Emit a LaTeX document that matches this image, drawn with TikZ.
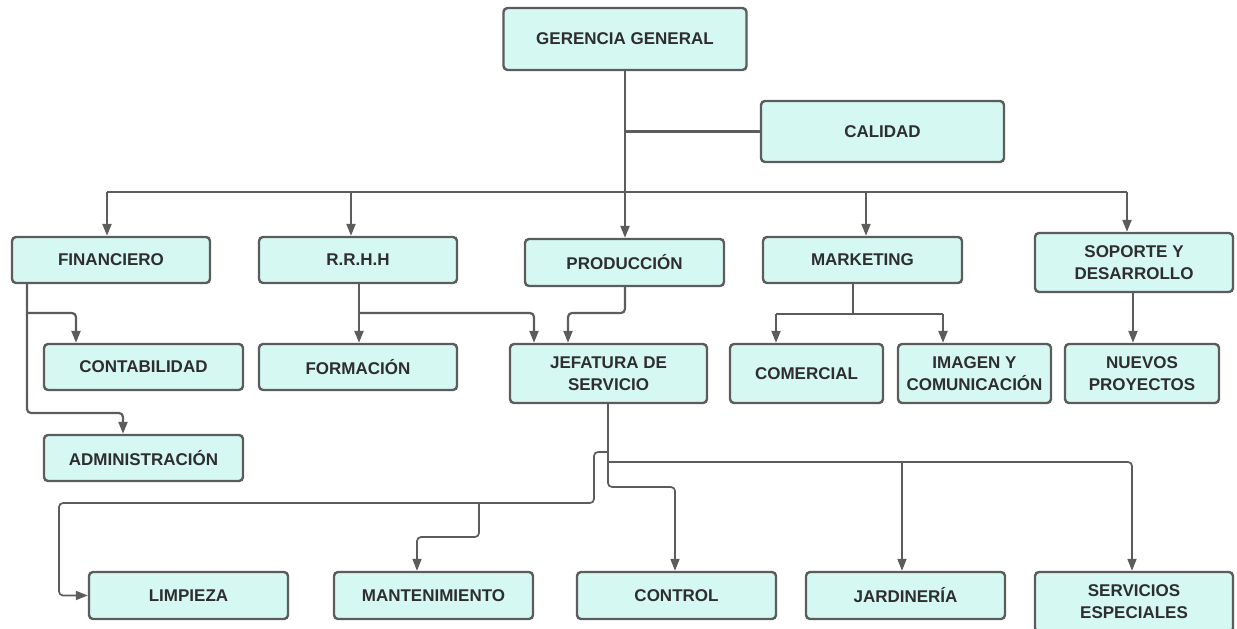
\documentclass[tikz,border=0pt]{standalone}
\usepackage{fontspec}
\setmainfont{Liberation Sans}
\usetikzlibrary{arrows.meta}
\definecolor{boxfill}{HTML}{D6F8F2}
\definecolor{edge}{HTML}{5C5C5C}
\definecolor{ink}{HTML}{2E2E2E}
\tikzset{
  orgbox/.style={draw=edge, line width=2.4pt, fill=boxfill, rounded corners=4pt,
    text=ink, font=\fontsize{17}{22}\selectfont\bfseries, align=center, inner sep=0pt},
  link/.style={draw=edge, line width=2.2pt, rounded corners=4pt},
  thinlink/.style={draw=edge, line width=1.7pt, rounded corners=4pt},
  tip/.style={-{Triangle[length=12pt,width=9pt]}}
}
\begin{document}
\begin{tikzpicture}[x=1pt,y=-1pt]
\useasboundingbox (0,0) rectangle (1237,629);

% boxes
\node[orgbox, minimum width=243pt, minimum height=62pt] (gg)   at (625,39)     {GERENCIA GENERAL};
\node[orgbox, minimum width=243pt, minimum height=61pt] (cal)  at (882.5,131.5) {CALIDAD};
\node[orgbox, minimum width=198pt, minimum height=46pt] (fin)  at (111,260)    {FINANCIERO};
\node[orgbox, minimum width=198pt, minimum height=46pt] (rrhh) at (358,260)    {R.R.H.H};
\node[orgbox, minimum width=199pt, minimum height=47pt] (prod) at (624.5,262.5) {PRODUCCIÓN};
\node[orgbox, minimum width=199pt, minimum height=46pt] (mkt)  at (862.5,260)  {MARKETING};
\node[orgbox, minimum width=198pt, minimum height=59pt] (sop)  at (1134,262.5) {SOPORTE Y\\DESARROLLO};
\node[orgbox, minimum width=199pt, minimum height=46pt] (cont) at (143.5,367)  {CONTABILIDAD};
\node[orgbox, minimum width=199pt, minimum height=46pt] (adm)  at (143.5,458)  {ADMINISTRACIÓN};
\node[orgbox, minimum width=198pt, minimum height=46pt] (form) at (358,367)    {FORMACIÓN};
\node[orgbox, minimum width=197pt, minimum height=59pt] (jef)  at (608.5,373.5) {JEFATURA DE\\SERVICIO};
\node[orgbox, minimum width=153pt, minimum height=59pt] (com)  at (806.5,373.5) {COMERCIAL};
\node[orgbox, minimum width=153pt, minimum height=59pt] (img)  at (974.5,373.5) {IMAGEN Y\\COMUNICACIÓN};
\node[orgbox, minimum width=154pt, minimum height=59pt] (nue)  at (1142,373.5) {NUEVOS\\PROYECTOS};
\node[orgbox, minimum width=199pt, minimum height=47pt] (lim)  at (188.5,595.5) {LIMPIEZA};
\node[orgbox, minimum width=199pt, minimum height=47pt] (man)  at (433.5,595.5) {MANTENIMIENTO};
\node[orgbox, minimum width=199pt, minimum height=47pt] (ctrl) at (676.5,595.5) {CONTROL};
\node[orgbox, minimum width=199pt, minimum height=47pt] (jar)  at (905.5,595.5) {JARDINERÍA};
\node[orgbox, minimum width=198pt, minimum height=60pt] (ser)  at (1134,602)   {SERVICIOS\\ESPECIALES};

% junction points
\coordinate (busL) at (107,192);
\coordinate (busR) at (1127,192);
\coordinate (busC) at (625,192);
\coordinate (finJ) at (27,313);
\coordinate (finK) at (27,413);
\coordinate (contA) at (76,313);
\coordinate (admA) at (123,413);
\coordinate (rrA) at (351,192);
\coordinate (rrJ) at (359,313);
\coordinate (jefA) at (534,313);
\coordinate (jefB) at (568,313);
\coordinate (mktJ) at (853,314);
\coordinate (comA) at (776,314);
\coordinate (imgA) at (943,314);
\coordinate (mktA) at (866,192);
\coordinate (nueA) at (1133,292);
\coordinate (jefL) at (608,452);
\coordinate (jefR) at (608,462);
\coordinate (jefC) at (608,487);
\coordinate (limL) at (594,452);
\coordinate (limR) at (594,503);
\coordinate (limX) at (59,503);
\coordinate (manA) at (479,503);
\coordinate (manB) at (417,537);
\coordinate (ctrlA) at (675,487);
\coordinate (jarA) at (902,462);
\coordinate (serA) at (1132,462);

% top level
\draw[link] (gg.south) -- (busC);
\draw[link] (gg.south |- cal.west) -- (cal.west);
\draw[link] (busL) -- (busR);
\draw[link, tip] (busL) -- (busL |- fin.north);
\draw[link, tip] (rrA) -- (rrA |- rrhh.north);
\draw[link, tip] (busC) -- (busC |- prod.north);
\draw[link, tip] (mktA) -- (mktA |- mkt.north);
\draw[link, tip] (busR) -- (busR |- sop.north);

% financiero
\draw[link, tip] (finJ |- fin.south) -- (finK) -- (admA) -- (admA |- adm.north);
\draw[link, tip] (finJ) -- (contA) -- (contA |- cont.north);

% recursos humanos
\draw[link, tip] (rrJ |- rrhh.south) -- (rrJ |- form.north);
\draw[link, tip] (rrJ) -- (jefA) -- (jefA |- jef.north);

% produccion
\draw[link, tip] (busC |- prod.south) -- (busC |- jefB) -- (jefB) -- (jefB |- jef.north);

% marketing
\draw[link] (mktJ |- mkt.south) -- (mktJ);
\draw[link, tip] (comA) -- (comA |- com.north);
\draw[link, tip] (imgA) -- (imgA |- img.north);
\draw[link] (comA) -- (imgA);

% soporte
\draw[link, tip] (nueA) -- (nueA |- nue.north);

% jefatura de servicio
\draw[thinlink, tip] (jefL |- jef.south) -- (jefC) -- (ctrlA) -- (ctrlA |- ctrl.north);
\draw[thinlink, tip] (jefL) -- (limL) -- (limR) -- (limX) -- (limX |- lim.west) -- (lim.west);
\draw[thinlink, tip] (manA) -- (manA |- manB) -- (manB) -- (manB |- man.north);
\draw[thinlink, tip] (jefR) -- (serA) -- (serA |- ser.north);
\draw[thinlink, tip] (jarA) -- (jarA |- jar.north);
\end{tikzpicture}
\end{document}
